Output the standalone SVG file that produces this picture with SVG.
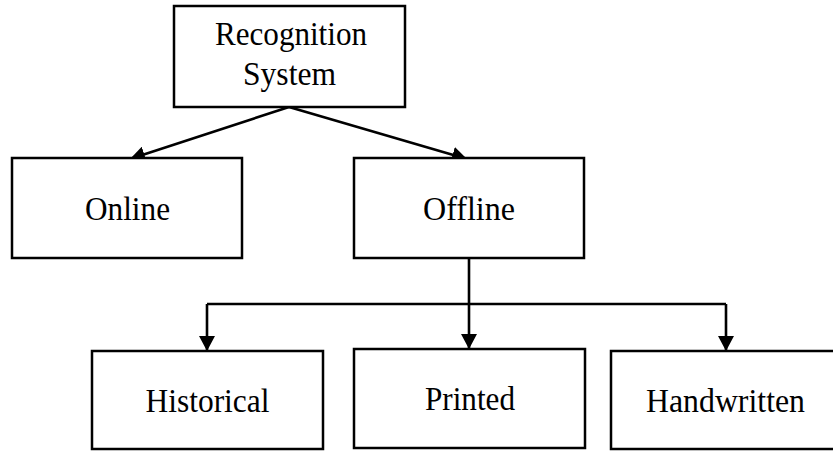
<svg xmlns="http://www.w3.org/2000/svg" width="833" height="451" viewBox="0 0 833 451">
  <style>
    .box { fill: #ffffff; stroke: #000000; stroke-width: 2.5; }
    .label { font-family: "Liberation Serif", "Times New Roman", serif; font-size: 33px; fill: #000000; text-anchor: middle; }
    .link { fill: none; stroke: #000000; stroke-width: 2.6; marker-end: url(#arrow); }
    .trunk { fill: none; stroke: #000000; stroke-width: 2.6; }
  </style>
  <defs>
    <marker id="arrow" viewBox="0 0 15 16" refX="15" refY="8" markerWidth="15" markerHeight="16" markerUnits="userSpaceOnUse" orient="auto">
      <path d="M0,0 L15,8 L0,16 Z" fill="#000000"/>
    </marker>
  </defs>
  <rect width="833" height="451" fill="#ffffff"/>

  <g id="connectors">
    <line class="link" x1="289" y1="107" x2="130" y2="159"/>
    <line class="link" x1="289" y1="107" x2="467" y2="159"/>
    <line class="trunk" x1="469" y1="258" x2="469" y2="304"/>
    <polyline class="trunk" points="207,304 726,304"/>
    <line class="link" x1="207" y1="304" x2="207" y2="351"/>
    <line class="link" x1="469" y1="304" x2="469" y2="349"/>
    <line class="link" x1="726" y1="304" x2="726" y2="351"/>
  </g>

  <g id="node-recognition">
    <rect class="box" x="174" y="6" width="231" height="101"/>
    <text class="label" x="291" y="45" textLength="152" lengthAdjust="spacingAndGlyphs">Recognition</text>
    <text class="label" x="289.5" y="85" textLength="93" lengthAdjust="spacingAndGlyphs">System</text>
  </g>

  <g id="node-online">
    <rect class="box" x="12" y="158" width="230" height="100"/>
    <text class="label" x="127.5" y="220" textLength="85" lengthAdjust="spacingAndGlyphs">Online</text>
  </g>

  <g id="node-offline">
    <rect class="box" x="354" y="158" width="230" height="100"/>
    <text class="label" x="469" y="220" textLength="92" lengthAdjust="spacingAndGlyphs">Offline</text>
  </g>

  <g id="node-historical">
    <rect class="box" x="92" y="351" width="231" height="98"/>
    <text class="label" x="207.5" y="412" textLength="124" lengthAdjust="spacingAndGlyphs">Historical</text>
  </g>

  <g id="node-printed">
    <rect class="box" x="354" y="349" width="231" height="99"/>
    <text class="label" x="470" y="410" textLength="90" lengthAdjust="spacingAndGlyphs">Printed</text>
  </g>

  <g id="node-handwritten">
    <rect class="box" x="611" y="351" width="231" height="98"/>
    <text class="label" x="725.5" y="412" textLength="159" lengthAdjust="spacingAndGlyphs">Handwritten</text>
  </g>
</svg>
